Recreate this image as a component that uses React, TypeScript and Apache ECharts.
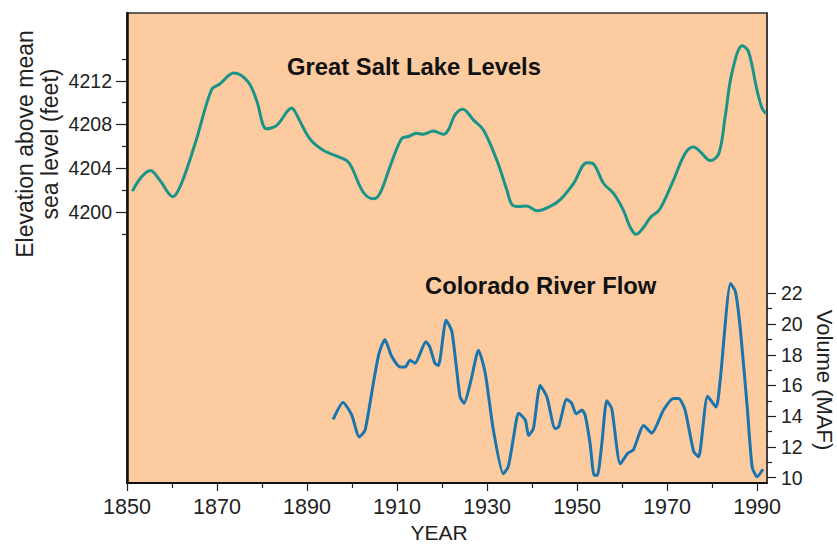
import React, { useEffect, useRef } from "react";
import * as echarts from "echarts";

// Great Salt Lake levels (feet above mean sea level)
const gslYears = [1851.2, 1853.2, 1855.2, 1857.3, 1860.2, 1862.1, 1865.4, 1868.8, 1870.6, 1873.7, 1876.9, 1878.8, 1881.0, 1883.2, 1886.7, 1887.3, 1890.6, 1893.6, 1898.8, 1899.9, 1902.5, 1904.7, 1906.2, 1908.4, 1911.0, 1912.5, 1914.4, 1915.8, 1918.1, 1920.3, 1921.4, 1922.9, 1924.6, 1927.0, 1929.2, 1932.2, 1934.4, 1935.5, 1937.0, 1938.8, 1941.1, 1944.0, 1946.2, 1949.2, 1952.2, 1953.6, 1955.9, 1958.1, 1960.3, 1961.8, 1963.1, 1964.8, 1966.3, 1968.3, 1971.2, 1974.0, 1975.9, 1977.4, 1979.6, 1981.5, 1982.9, 1984.4, 1986.7, 1988.1, 1990.0, 1991.1, 1992.0];
const gslLevels = [4201.9, 4203.2, 4203.8, 4202.9, 4201.4, 4202.6, 4206.6, 4211.2, 4211.7, 4212.7, 4211.9, 4210.2, 4207.6, 4207.9, 4209.5, 4209.2, 4206.7, 4205.65, 4204.7, 4204.1, 4201.8, 4201.2, 4201.7, 4204.1, 4206.7, 4206.9, 4207.2, 4207.1, 4207.4, 4207.1, 4207.5, 4208.9, 4209.4, 4208.4, 4207.5, 4204.7, 4202.0, 4200.7, 4200.5, 4200.55, 4200.1, 4200.5, 4201.1, 4202.6, 4204.5, 4204.4, 4202.6, 4201.7, 4200.15, 4198.6, 4197.95, 4198.6, 4199.5, 4200.2, 4202.7, 4205.35, 4205.95, 4205.5, 4204.7, 4205.35, 4208.7, 4212.7, 4215.2, 4214.65, 4211.1, 4209.5, 4209.0];

// Colorado River flow (million acre-feet)
const crfYears = [1895.8, 1898.0, 1899.9, 1901.6, 1902.9, 1904.7, 1906.0, 1907.3, 1908.8, 1910.7, 1911.8, 1912.9, 1914.0, 1916.4, 1917.3, 1918.4, 1919.2, 1920.9, 1922.2, 1924.0, 1924.9, 1926.4, 1928.1, 1929.6, 1931.4, 1933.6, 1934.7, 1935.9, 1937.0, 1938.5, 1939.2, 1940.3, 1941.8, 1943.3, 1945.1, 1945.9, 1947.7, 1948.8, 1949.8, 1951.1, 1951.8, 1952.9, 1953.8, 1954.5, 1955.5, 1956.6, 1957.7, 1959.6, 1961.3, 1962.5, 1964.8, 1966.6, 1969.2, 1971.4, 1972.6, 1974.0, 1975.9, 1977.0, 1979.0, 1980.9, 1981.8, 1984.1, 1985.2, 1986.3, 1987.8, 1988.9, 1990.0, 1991.3];
const crfFlows = [13.8, 14.9, 14.1, 12.65, 13.1, 16.1, 18.1, 19.0, 17.9, 17.2, 17.2, 17.65, 17.45, 18.85, 18.5, 17.45, 17.3, 20.25, 19.5, 15.25, 14.85, 16.3, 18.3, 16.8, 13.1, 10.25, 10.7, 12.65, 14.2, 13.75, 12.75, 13.2, 16.0, 15.25, 13.2, 13.3, 15.1, 14.85, 14.15, 14.4, 14.05, 12.2, 10.15, 10.15, 12.2, 15.0, 14.5, 10.9, 11.6, 11.8, 13.4, 12.9, 14.4, 15.15, 15.15, 14.4, 11.7, 11.35, 15.3, 14.6, 16.35, 22.65, 22.1, 19.6, 14.6, 10.7, 10.05, 10.55];

// Tick values
const yearLabels = [1850, 1870, 1890, 1910, 1930, 1950, 1970, 1990];
const yearMinor = [1860, 1880, 1900, 1920, 1940, 1960, 1980];
const elevLabels = [4200, 4204, 4208, 4212];
const elevMinor = [4198, 4202, 4206, 4210, 4214];
const volLabels = [10, 12, 14, 16, 18, 20, 22];
const volMinor = [11, 13, 15, 17, 19, 21];

const FONT = '"Liberation Sans", Arial, Helvetica, sans-serif';
const TXT = "#222";

export default function App() {
  const ref = useRef<HTMLDivElement>(null);
  useEffect(() => {
    document.body.style.margin = "0";
    if (!ref.current) return;
    const chart = echarts.init(ref.current, undefined, { renderer: "svg" });
    const xMin = 1850, xMax = 1992.2;
    const eMin = 4175.2, eMax = 4218.2;
    const vMin = 9.65, vMax = 40.26;
    const hidden = { show: false };
    chart.setOption({
      animation: false,
      backgroundColor: "#ffffff",
      grid: {
        left: 127, right: 70, top: 13, bottom: 61,
        show: true, backgroundColor: "#FCCBA0", borderColor: "#333", borderWidth: 1.5,
        containLabel: false, outerBoundsMode: "none",
      },
      xAxis: [
        {
          type: "value", min: xMin, max: xMax, position: "bottom", offset: 0,
          axisLine: { show: true, lineStyle: { color: "#111", width: 2 } },
          axisTick: { show: true, customValues: yearLabels, length: 8, lineStyle: { color: "#222", width: 1.2 } },
          axisLabel: { customValues: yearLabels, fontSize: 21.5, fontFamily: FONT, color: TXT, margin: 13, formatter: (v: number) => String(v) },
          splitLine: hidden,
        },
        {
          type: "value", min: xMin, max: xMax, position: "bottom", offset: 0,
          axisLine: hidden,
          axisTick: { show: true, customValues: yearMinor, length: 5, lineStyle: { color: "#222", width: 1.2 } },
          axisLabel: hidden,
          splitLine: hidden,
        },
      ],
      yAxis: [
        {
          type: "value", min: eMin, max: eMax, position: "left", offset: 0,
          axisLine: { show: true, lineStyle: { color: "#111", width: 2.5 } },
          axisTick: { show: true, customValues: elevLabels, length: 11, lineStyle: { color: "#222", width: 1.2 } },
          axisLabel: { customValues: elevLabels, fontSize: 19.5, fontFamily: FONT, color: TXT, margin: 15, formatter: (v: number) => String(v) },
          splitLine: hidden,
        },
        {
          type: "value", min: eMin, max: eMax, position: "left", offset: 0,
          axisLine: hidden,
          axisTick: { show: true, customValues: elevMinor, length: 5, lineStyle: { color: "#222", width: 1.2 } },
          axisLabel: hidden,
          splitLine: hidden,
        },
        {
          type: "value", min: vMin, max: vMax, position: "right", offset: 0,
          axisLine: { show: true, lineStyle: { color: "#333", width: 1.5 } },
          axisTick: { show: true, customValues: volLabels, length: 9, lineStyle: { color: "#222", width: 1.2 } },
          axisLabel: { customValues: volLabels, fontSize: 19.5, fontFamily: FONT, color: TXT, margin: 14, formatter: (v: number) => String(v) },
          splitLine: hidden,
        },
        {
          type: "value", min: vMin, max: vMax, position: "right", offset: 0,
          axisLine: hidden,
          axisTick: { show: true, customValues: volMinor, length: 5, lineStyle: { color: "#222", width: 1.2 } },
          axisLabel: hidden,
          splitLine: hidden,
        },
      ],
      series: [
        {
          name: "Great Salt Lake Levels", type: "line", xAxisIndex: 0, yAxisIndex: 0,
          data: gslYears.map((y, i) => [y, gslLevels[i]]),
          smooth: 0.35, showSymbol: false, symbol: "none",
          lineStyle: { color: "#1A9488", width: 3 },
        },
        {
          name: "Colorado River Flow", type: "line", xAxisIndex: 0, yAxisIndex: 2,
          data: crfYears.map((y, i) => [y, crfFlows[i]]),
          smooth: 0.2, showSymbol: false, symbol: "none",
          lineStyle: { color: "#1A74AE", width: 3 },
        },
      ],
      graphic: [
        {
          type: "text", x: 287, y: 66,
          style: { text: "Great Salt Lake Levels", fontSize: 23.8, fontWeight: "bold", fontFamily: FONT, fill: "#111", align: "left", verticalAlign: "middle", textAlign: "left", textVerticalAlign: "middle" },
        },
        {
          type: "text", x: 425, y: 285,
          style: { text: "Colorado River Flow", fontSize: 23.8, fontWeight: "bold", fontFamily: FONT, fill: "#111", align: "left", verticalAlign: "middle", textAlign: "left", textVerticalAlign: "middle" },
        },
        {
          type: "text", x: 439, y: 532,
          style: { text: "YEAR", fontSize: 21, fontFamily: FONT, fill: TXT, align: "center", verticalAlign: "middle", textAlign: "center", textVerticalAlign: "middle" },
        },
        {
          type: "text", x: 37, y: 144, rotation: Math.PI / 2,
          style: { text: "Elevation above mean\nsea level (feet)", fontSize: 23, lineHeight: 25, fontFamily: FONT, fill: TXT, align: "center", verticalAlign: "middle", textAlign: "center", textVerticalAlign: "middle" },
        },
        {
          type: "text", x: 824, y: 380, rotation: -Math.PI / 2,
          style: { text: "Volume (MAF)", fontSize: 22, fontFamily: FONT, fill: TXT, align: "center", verticalAlign: "middle", textAlign: "center", textVerticalAlign: "middle" },
        },
      ],
    });
    return () => chart.dispose();
  }, []);
  return <div ref={ref} style={{ width: 837, height: 544 }} />;
}
